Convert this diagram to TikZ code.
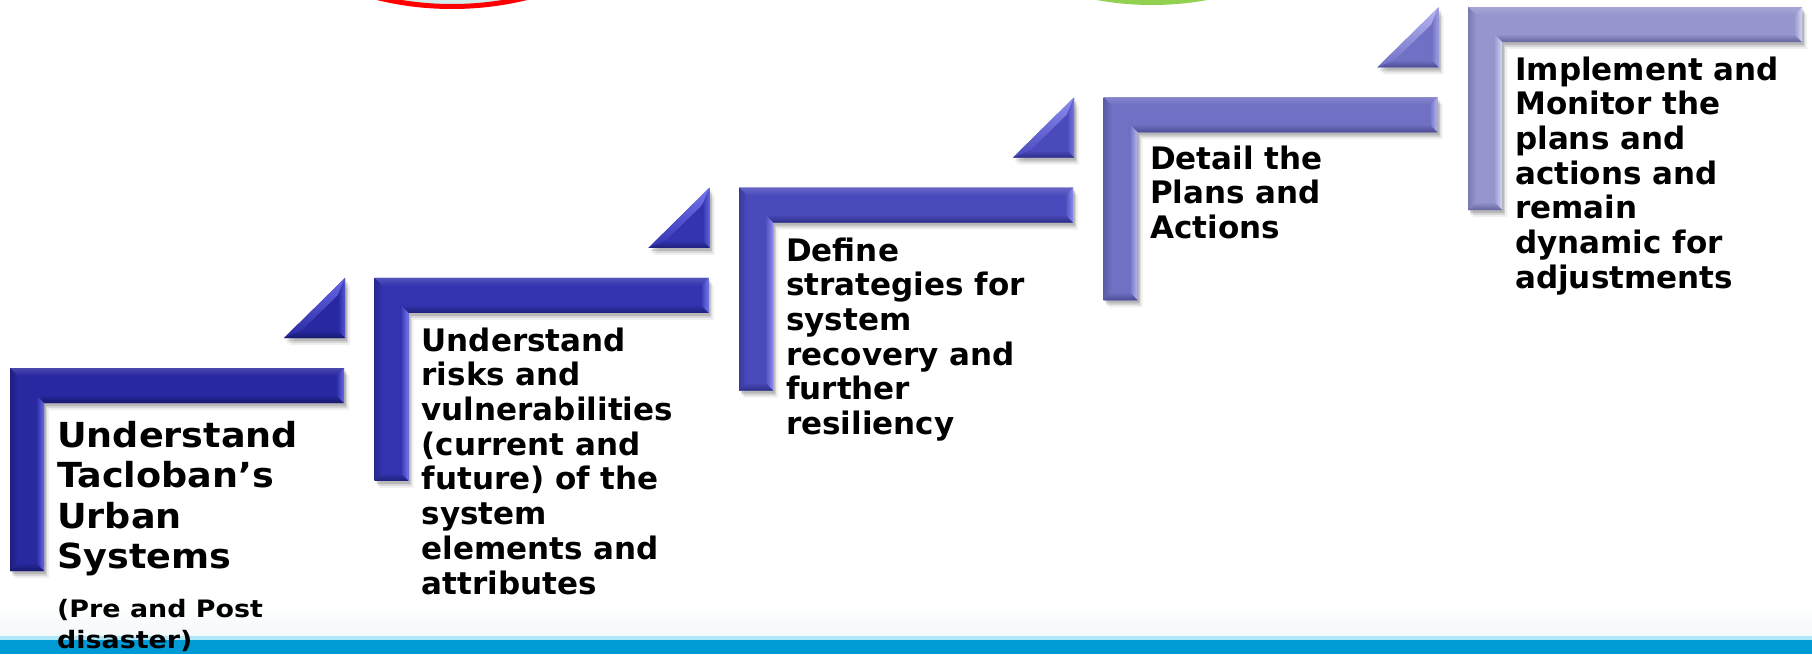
\documentclass[tikz,border=0pt]{standalone}
\usepackage{fontspec}
\setmainfont{DejaVu Sans}
\newfontfamily\wideA{DejaVu Sans}[FakeStretch=1.06]
\newfontfamily\wideB{DejaVu Sans}[FakeStretch=1.12]
\definecolor{sAbase}{RGB}{40,40,160}
\definecolor{sAlight}{RGB}{105,105,232}
\definecolor{sAdark}{RGB}{24,24,108}
\definecolor{sBbase}{RGB}{52,52,176}
\definecolor{sBlight}{RGB}{118,118,238}
\definecolor{sBdark}{RGB}{32,32,122}
\definecolor{sCbase}{RGB}{74,74,188}
\definecolor{sClight}{RGB}{140,140,240}
\definecolor{sCdark}{RGB}{46,46,136}
\definecolor{sDbase}{RGB}{112,112,196}
\definecolor{sDlight}{RGB}{182,182,242}
\definecolor{sDdark}{RGB}{76,76,146}
\definecolor{sEbase}{RGB}{150,150,205}
\definecolor{sElight}{RGB}{212,212,246}
\definecolor{sEdark}{RGB}{102,102,160}
\definecolor{bandblue}{RGB}{0,155,213}
\definecolor{bandline}{RGB}{175,232,246}
\definecolor{ringfill}{RGB}{213,236,237}
\definecolor{greenblob}{RGB}{146,208,80}
% L-shaped step: #1 = left x, #2 = top y, #3 = colour prefix
\newcommand\StepL[3]{%
  \pgfmathsetmacro\lXa{#1}\pgfmathsetmacro\lYa{#2}%
  \pgfmathsetmacro\lXr{#1+334}\pgfmathsetmacro\lYt{#2+35}%
  \pgfmathsetmacro\lXi{#1+34}\pgfmathsetmacro\lYb{#2+203}%
  \pgfmathsetmacro\lXrb{#1+334-8}\pgfmathsetmacro\lYtb{#2+35-8}%
  \pgfmathsetmacro\lXib{#1+34-8}\pgfmathsetmacro\lYbb{#2+203-8}%
  \pgfmathsetmacro\lXab{#1+8}\pgfmathsetmacro\lYab{#2+8}%
  \foreach \sx/\sy/\so in {5/7/0.06,3/5/0.10,2/3/0.14}{%
    \fill[black,opacity=\so,shift={(\sx,\sy)}] (\lXa,\lYa) -- (\lXr,\lYa) -- (\lXr,\lYt) -- (\lXi,\lYt) -- (\lXi,\lYb) -- (\lXa,\lYb) -- cycle;}
  \fill[#3base] (\lXa,\lYa) -- (\lXr,\lYa) -- (\lXr,\lYt) -- (\lXi,\lYt) -- (\lXi,\lYb) -- (\lXa,\lYb) -- cycle;
  % top band
  \shade[top color=#3base!85!white,bottom color=#3base] (\lXa,\lYa) -- (\lXr,\lYa) -- (\lXrb,\lYab) -- (\lXab,\lYab) -- cycle;
  % left band
  \shade[left color=#3dark!60!#3base,right color=#3base] (\lXa,\lYa) -- (\lXab,\lYab) -- (\lXab,\lYbb) -- (\lXa,\lYb) -- cycle;
  % underside of the horizontal bar
  \shade[top color=#3base,bottom color=#3dark] (\lXib,\lYtb) -- (\lXrb,\lYtb) -- (\lXr,\lYt) -- (\lXi,\lYt) -- cycle;
  % inner edge of the vertical bar
  \shade[left color=#3base,right color=#3light] (\lXib,\lYtb) -- (\lXi,\lYt) -- (\lXi,\lYb) -- (\lXib,\lYbb) -- cycle;
  % bottom end of the vertical bar
  \shade[top color=#3base,bottom color=#3dark] (\lXab,\lYbb) -- (\lXib,\lYbb) -- (\lXi,\lYb) -- (\lXa,\lYb) -- cycle;
  % right end of the horizontal bar
  \shade[left color=#3base,right color=#3light] (\lXrb,\lYab) -- (\lXr,\lYa) -- (\lXr,\lYt) -- (\lXrb,\lYtb) -- cycle;
}
% triangle: #1 = right x, #2 = bottom y, #3 = colour prefix
\newcommand\StepT[3]{%
  \pgfmathsetmacro\tXr{#1}\pgfmathsetmacro\tYb{#2}%
  \pgfmathsetmacro\tXl{#1-61}\pgfmathsetmacro\tYt{#2-60}%
  \pgfmathsetmacro\tXli{#1-61+17}\pgfmathsetmacro\tYbi{#2-7}%
  \pgfmathsetmacro\tXri{#1-7}\pgfmathsetmacro\tYti{#2-60+17}%
  \foreach \sx/\sy/\so in {5/7/0.06,3/5/0.10,2/3/0.14}{%
    \fill[black,opacity=\so,shift={(\sx,\sy)}] (\tXl,\tYb) -- (\tXr,\tYt) -- (\tXr,\tYb) -- cycle;}
  \fill[#3base] (\tXl,\tYb) -- (\tXr,\tYt) -- (\tXr,\tYb) -- cycle;
  \shade[top color=#3light,bottom color=#3base] (\tXl,\tYb) -- (\tXr,\tYt) -- (\tXri,\tYti) -- (\tXli,\tYbi) -- cycle;
  \shade[left color=#3base,right color=#3light!70!#3base] (\tXr,\tYt) -- (\tXr,\tYb) -- (\tXri,\tYbi) -- (\tXri,\tYti) -- cycle;
  \shade[top color=#3base,bottom color=#3dark] (\tXli,\tYbi) -- (\tXri,\tYbi) -- (\tXr,\tYb) -- (\tXl,\tYb) -- cycle;
}
% anchor = baseline of the LAST line of each multi-line text
\tikzset{
  steptext/.style={anchor=base west,align=left,inner sep=0pt,text=black,
    font=\bfseries\fontsize{31}{34.7}\selectfont},
  steptextbig/.style={anchor=base west,align=left,inner sep=0pt,text=black,
    font=\wideA\bfseries\fontsize{34.5}{40.5}\selectfont},
  stepnote/.style={anchor=base west,align=left,inner sep=0pt,text=black,
    font=\wideB\bfseries\fontsize{24}{31}\selectfont},
}
\begin{document}
\begin{tikzpicture}[x=1pt,y=-1pt]
\useasboundingbox (0,0) rectangle (1812,654);
\clip (0,0) rectangle (1812,654);
\fill[white] (0,0) rectangle (1812,654);
% partial circles at the top edge
\draw[red,line width=5pt,fill=ringfill] (452,-308) circle[radius=314.5pt];
\fill[greenblob] (1152,-300) circle[radius=305pt];
% bottom band
\shade[top color=white,bottom color={rgb,255:red,244;green,249;blue,250}] (0,600) rectangle (1812,636);
\fill[bandline] (0,636) rectangle (1812,640);
\fill[bandblue] (0,640) rectangle (1812,654);
% steps
\StepL{10}{368}{sA}
\StepT{345}{338}{sA}
\StepL{374.5}{277.75}{sB}
\StepT{709.5}{247.75}{sB}
\StepL{739}{187.5}{sC}
\StepT{1074}{157.5}{sC}
\StepL{1103.5}{97.25}{sD}
\StepT{1438.5}{67.25}{sD}
\StepL{1468}{7}{sE}
% texts
\node[steptextbig] (t1) at (57,568.5) {Understand\\Tacloban’s\\Urban\\Systems};
\node[stepnote] (n1) at (57,648) {(Pre and Post\\disaster)};
\node[steptext] (t2) at (421.5,594) {Understand\\risks and\\vulnerabilities\\(current and\\future) of the\\system\\elements and\\attributes};
\node[steptext] (t3) at (786,434.5) {Define\\strategies for\\system\\recovery and\\further\\resiliency};
\node[steptext] (t4) at (1150,238.4) {Detail the\\Plans and\\Actions};
\node[steptext] (t5) at (1515,288.2) {Implement and\\Monitor the\\plans and\\actions and\\remain\\dynamic for\\adjustments};
\end{tikzpicture}
\end{document}
